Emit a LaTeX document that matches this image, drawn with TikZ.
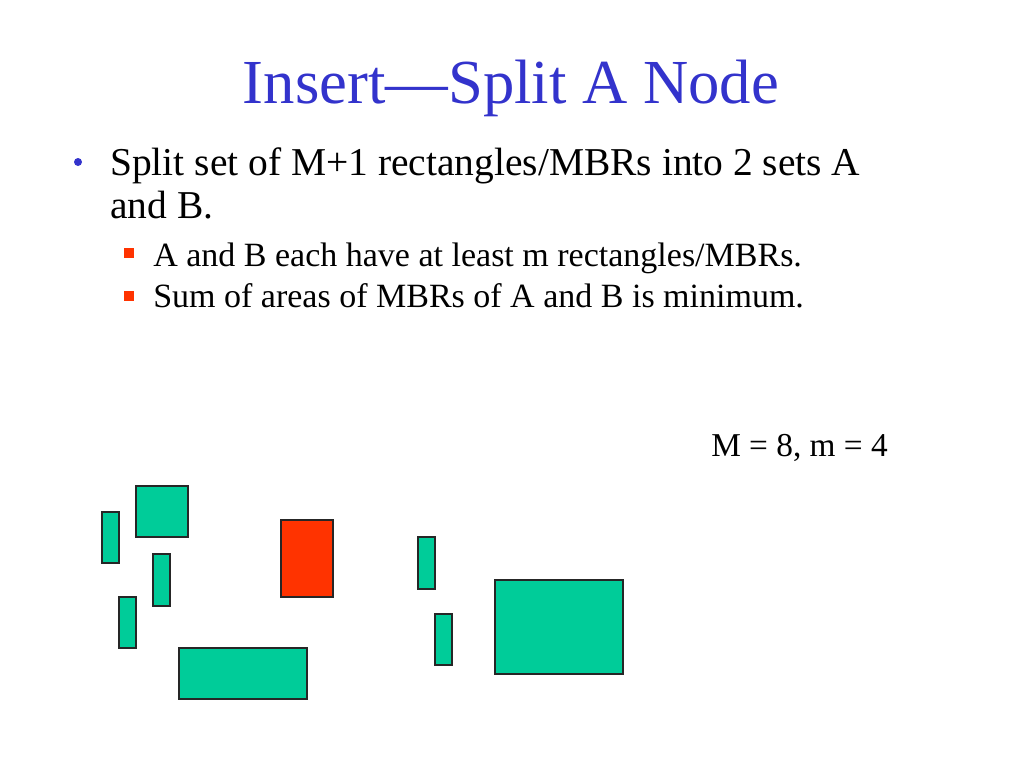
\documentclass[tikz,border=0pt]{standalone}
\usepackage{fontspec}
\setmainfont{Liberation Serif}
\definecolor{ttlBlue}{HTML}{3333CC}
\definecolor{mbrTeal}{HTML}{00CC99}
\definecolor{mbrRed}{HTML}{FF3300}

\begin{document}
\begin{tikzpicture}[x=0.75pt,y=-0.75pt,
      txt/.style={anchor=base west,inner sep=0pt},
      big/.style={font=\fontsize{29.6}{34}\selectfont},
      small/.style={font=\fontsize{25.5}{30}\selectfont},
      mbr/.style={draw=black!85,line width=0.9pt,fill=mbrTeal}]
    \useasboundingbox (0,0) rectangle (1024,768);
    % title
    \node[anchor=base,inner sep=0pt,text=ttlBlue,font=\fontsize{47}{52}\selectfont] (title) at (511,103) {Insert—Split A Node};
    % bullets
    \fill[ttlBlue] (78,162) circle (4);
    \node[txt,big] (l1) at (110,175) {Split set of M+1 rectangles/MBRs into 2 sets A};
    \node[txt,big] (l2) at (110,218) {and B.};
    \fill[mbrRed] (124,248) rectangle (134,258);
    \node[txt,small] (s1) at (153,266) {A and B each have at least m rectangles/MBRs.};
    \fill[mbrRed] (124,291) rectangle (134,301);
    \node[txt,small] (s2) at (153,307) {Sum of areas of MBRs of A and B is minimum.};
    \node[txt,font=\fontsize{25}{30}\selectfont] (mm) at (711,456) {M = 8, m = 4};
    % rectangles
    \draw[mbr] (102,512) rectangle (119,563);
    \draw[mbr] (136,486) rectangle (188,537);
    \draw[mbr] (153,554) rectangle (170,606);
    \draw[mbr] (119,597) rectangle (136,648);
    \draw[mbr,fill=mbrRed] (281,520) rectangle (333,597);
    \draw[mbr] (179,648) rectangle (307,699);
    \draw[mbr] (418,537) rectangle (435,589);
    \draw[mbr] (435,614) rectangle (452,665);
    \draw[mbr] (495,580) rectangle (623,674);
\end{tikzpicture}
\end{document}
